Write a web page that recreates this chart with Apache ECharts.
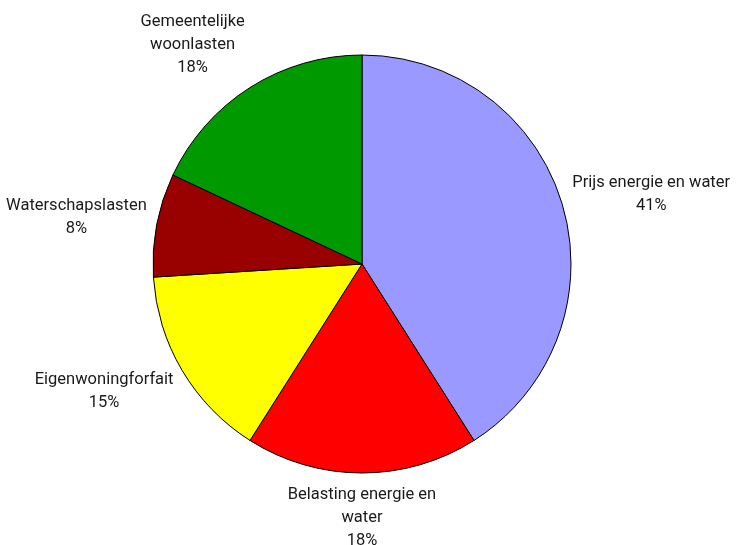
<!DOCTYPE html>
<html>
<head>
<meta charset="utf-8">
<script src="https://cdn.jsdelivr.net/npm/echarts@6/dist/echarts.min.js"></script>
<style>
  html, body { margin: 0; padding: 0; background: #fff; }
  #chart { width: 736px; height: 545px; }
</style>
</head>
<body>
<div id="chart"></div>
<script>
/* woonlasten verdeling */
var names = ['Prijs energie en water', 'Belasting energie en water', 'Eigenwoningforfait', 'Waterschapslasten', 'Gemeentelijke woonlasten']
var labelTexts = ['Prijs energie en water', 'Belasting energie en\nwater', 'Eigenwoningforfait', 'Waterschapslasten', 'Gemeentelijke\nwoonlasten']
var values = [41, 18, 15, 8, 18]
var colors = ['#9999FF', '#FF0000', '#FFFF00', '#990000', '#009900']

var cx = 362, cy = 264, radius = 209

var total = values.reduce(function (a, b) { return a + b }, 0)
var midAngles = []
var acc = 0
values.forEach(function (v) {
  midAngles.push((acc + v / 2) / total * Math.PI * 2)
  acc += v
})

function clamp (v) { return Math.max(-1, Math.min(1, v)) }

var chart = echarts.init(document.getElementById('chart'))
var option = {
  animation: false,
  series: [{
    type: 'pie',
    center: [cx, cy],
    radius: radius,
    startAngle: 90,
    clockwise: true,
    emphasis: { disabled: true },
    itemStyle: { borderColor: '#000', borderWidth: 1 },
    label: {
      show: true,
      position: 'outside',
      color: '#1a1a1a',
      fontFamily: 'Roboto',
      fontSize: 16.5,
      lineHeight: 23,
      align: 'center',
      overflow: 'none',
      formatter: function (p) {
        return labelTexts[p.dataIndex] + '\n' + values[p.dataIndex] + '%'
      }
    },
    labelLine: { show: false },
    // label buiten de taart, tegen de rand aan
    labelLayout: function (p) {
      var a = midAngles[p.dataIndex]
      var dx = Math.sin(a), dy = -Math.cos(a)
      var r = radius + 10
      var px = cx + dx * r, py = cy + dy * r
      var w = p.labelRect.width, h = p.labelRect.height
      return {
        x: px + clamp(dx * 2) * w / 2,
        y: py + clamp(dy * 1.4) * h / 2,
        align: 'center',
        verticalAlign: 'middle'
      }
    },
    data: names.map(function (n, i) {
      return { name: n, value: values[i], itemStyle: { color: colors[i] } }
    })
  }]
}
chart.setOption(option)
</script>
</body>
</html>
